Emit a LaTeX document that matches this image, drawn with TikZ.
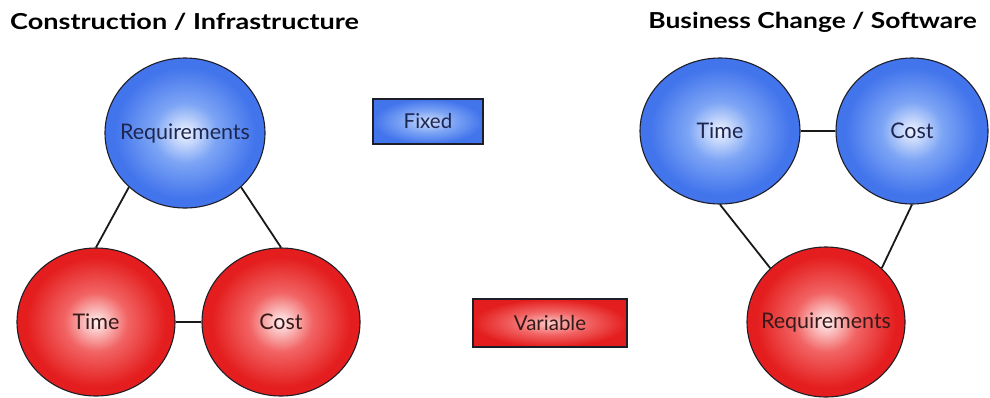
\documentclass[tikz,border=0pt]{standalone}
\usepackage{fontspec}
\setmainfont{Lato}
\usetikzlibrary{shapes.geometric}
\definecolor{blueout}{RGB}{66,116,236}
\definecolor{bluemid}{RGB}{125,165,245}
\definecolor{bluein}{RGB}{240,244,255}
\definecolor{redout}{RGB}{228,30,30}
\definecolor{redmid}{RGB}{242,100,100}
\definecolor{redin}{RGB}{255,242,242}
\definecolor{navytext}{RGB}{28,38,80}
\definecolor{redtext}{RGB}{55,25,25}
\definecolor{rim}{RGB}{30,30,40}
\newcommand{\zwtext}[1]{\makebox[0pt][c]{#1}}
\pgfdeclareradialshading{blueball}{\pgfpoint{0bp}{0bp}}{color(0bp)=(bluein); color(10bp)=(bluemid); color(22bp)=(blueout); color(25bp)=(blueout); color(50bp)=(blueout)}
\pgfdeclareradialshading{redball}{\pgfpoint{0bp}{0bp}}{color(0bp)=(redin); color(10bp)=(redmid); color(22bp)=(redout); color(25bp)=(redout); color(50bp)=(redout)}
\pgfdeclareradialshading{bluebox}{\pgfpoint{0bp}{0bp}}{color(0bp)=(bluein!70!bluemid); color(12bp)=(bluemid); color(25bp)=(blueout); color(50bp)=(blueout)}
\pgfdeclareradialshading{redbox}{\pgfpoint{0bp}{0bp}}{color(0bp)=(redin!70!redmid); color(12bp)=(redmid); color(25bp)=(redout); color(50bp)=(redout)}
\tikzset{
  ballblue/.style={ellipse, draw=rim, line width=1.1pt, shade, shading=blueball, inner sep=0pt, text=navytext, font=\fontsize{21.5}{24}\selectfont},
  ballred/.style={ellipse, draw=rim, line width=1.1pt, shade, shading=redball, inner sep=0pt, text=redtext, font=\fontsize{21.5}{24}\selectfont},
  keyblue/.style={rectangle, draw=rim, line width=1.1pt, shade, shading=bluebox, inner sep=0pt, text=navytext, font=\fontsize{20.5}{24}\selectfont},
  keyred/.style={rectangle, draw=rim, line width=1.1pt, shade, shading=redbox, inner sep=0pt, text=redtext, font=\fontsize{20.5}{24}\selectfont},
  heading/.style={inner sep=0pt, font=\bfseries\fontsize{22}{26}\selectfont, text=black},
  link/.style={draw=black!90, line width=1.8pt}
}
\begin{document}
\begin{tikzpicture}[x=1pt,y=-1pt]
\useasboundingbox (0,0) rectangle (990,397);
\fill[white] (0,0) rectangle (990,397);
% titles
\node[heading, anchor=west] (tl) at (10,22) {\scalebox{1.23}[1]{Construction / Infrastructure}};
\node[heading, anchor=east] (tr) at (977,22) {\scalebox{1.2}[1]{Business Change / Software}};
% left diagram
\node[ballblue, minimum width=160pt, minimum height=150pt] (reqL) at (185,133) {\zwtext{Requirements}};
\node[ballred, minimum width=158pt, minimum height=148pt] (timeL) at (96,322) {\zwtext{Time}};
\node[ballred, minimum width=158pt, minimum height=148pt] (costL) at (281,322) {\zwtext{Cost}};
% keys
\node[keyblue, minimum width=110pt, minimum height=45pt] (fixed) at (428,121.5) {Fixed};
\node[keyred, minimum width=154pt, minimum height=48pt] (variable) at (550,323) {Variable};
% right diagram
\node[ballblue, minimum width=160pt, minimum height=146pt] (timeR) at (720,131) {\zwtext{Time}};
\node[ballblue, minimum width=152pt, minimum height=146pt] (costR) at (912,131) {\zwtext{Cost}};
\node[ballred, minimum width=158pt, minimum height=150pt] (reqR) at (826,322) {\zwtext{Requirements}};
% connectors
\draw[link] (timeL.north) -- (reqL.224);
\draw[link] (costL.north) -- (reqL.316);
\draw[link] (timeL.east) -- (costL.west);
\draw[link] (timeR.east) -- (costR.west);
\draw[link] (timeR.south) -- (reqR.136);
\draw[link] (costR.south) -- (reqR.44);
\end{tikzpicture}
\end{document}
